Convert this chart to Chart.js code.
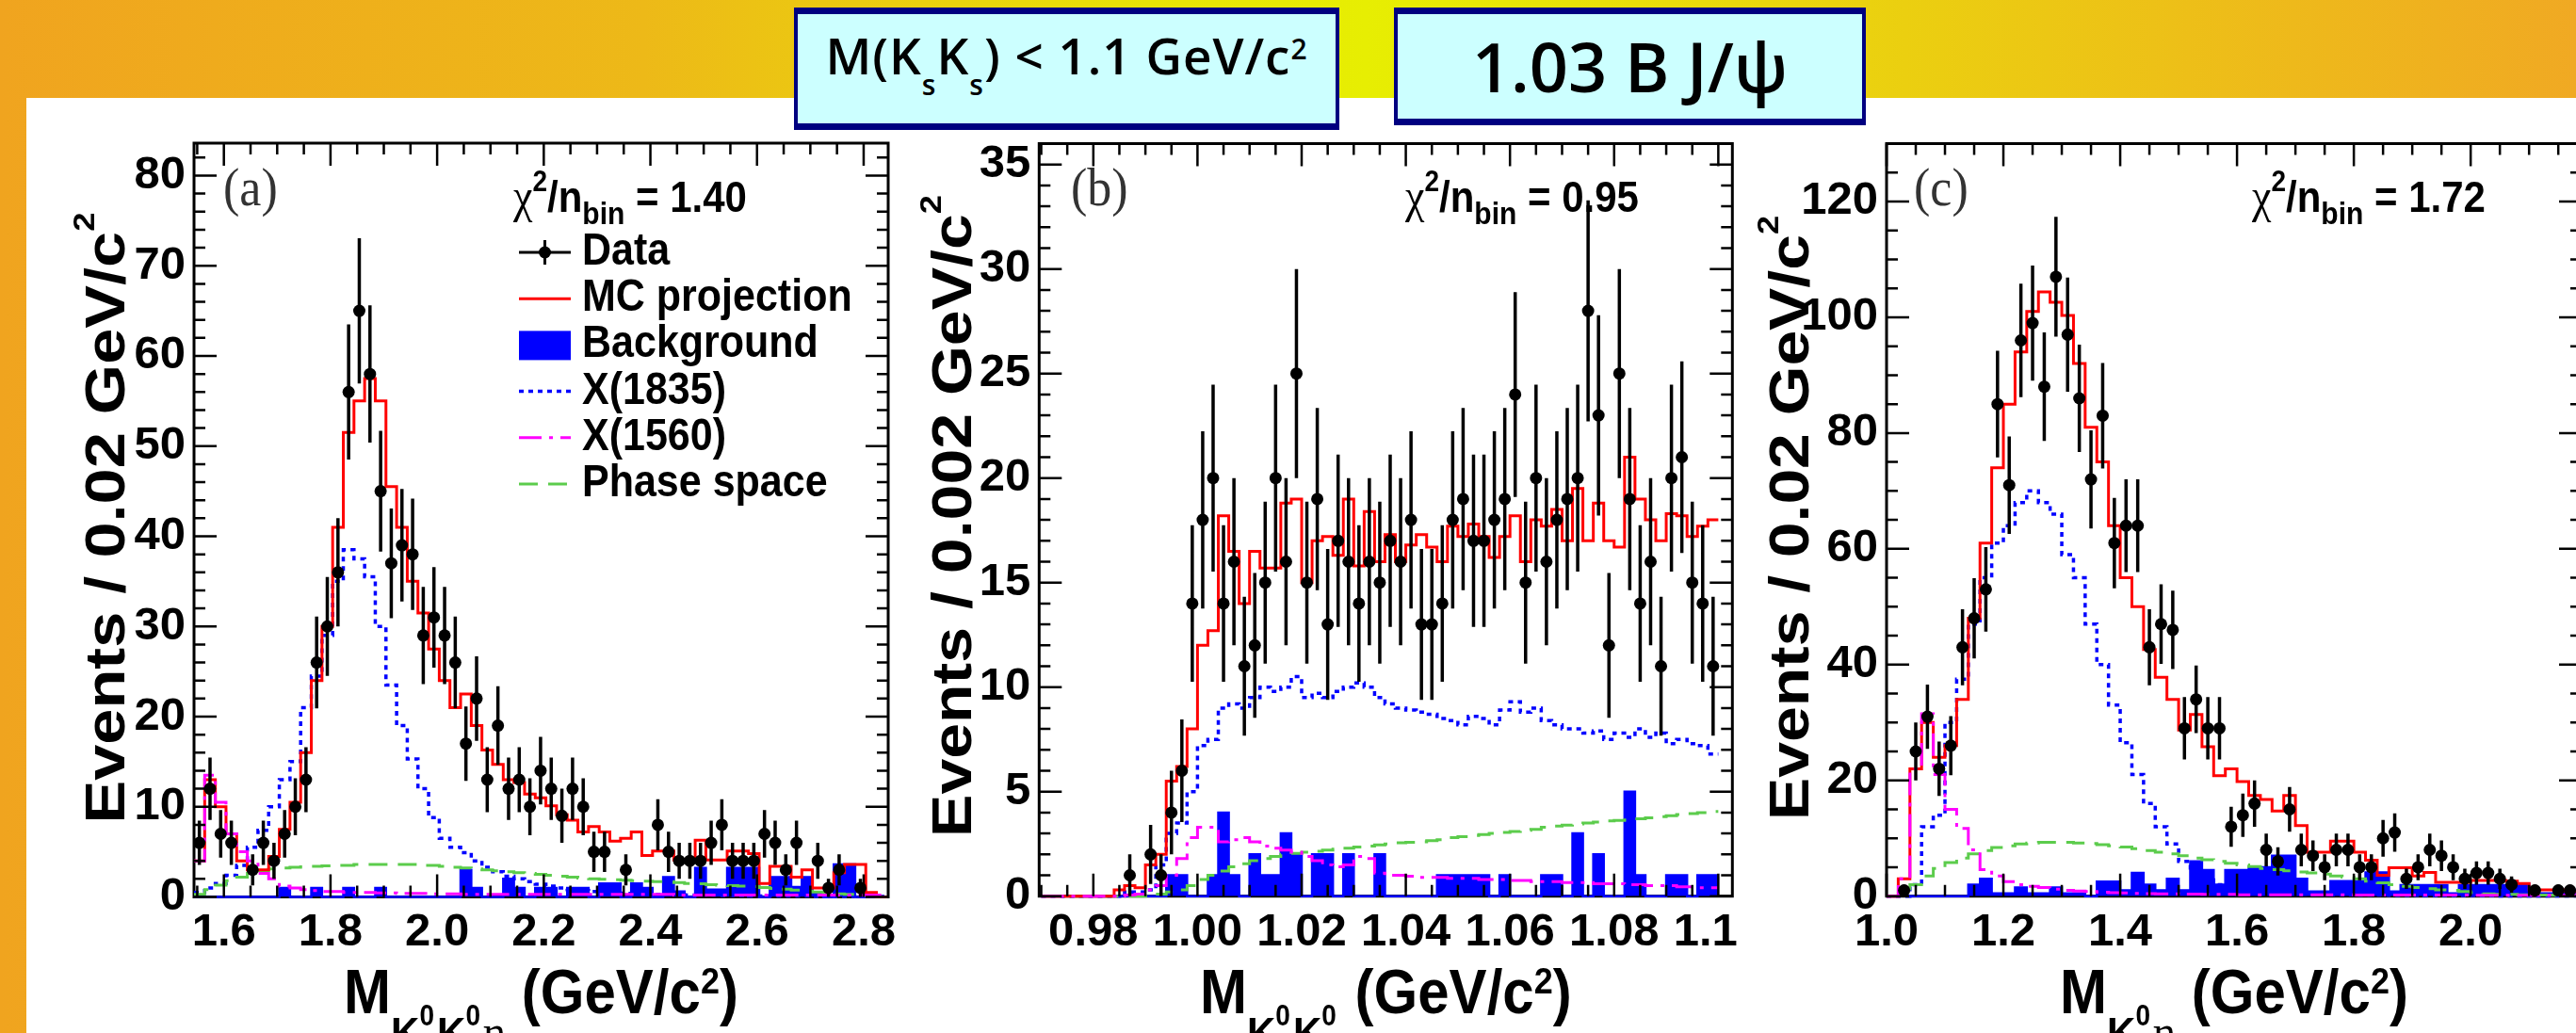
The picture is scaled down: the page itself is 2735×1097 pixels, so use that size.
<!DOCTYPE html>
<html lang="en">
<head>
<meta charset="UTF-8">
<title>K0K0eta projections, 1.03 B J/psi</title>
<script src="https://cdn.jsdelivr.net/npm/chart.js"></script>
<style>
    html, body { margin: 0; padding: 0; }
    body {
        width: 2735px; height: 1097px; overflow: hidden; position: relative;
        background: linear-gradient(90deg, #f0a41f 0%, #edb918 25%, #e8e405 45%, #e7ee02 53%, #ebcf10 74%, #f0a923 100%);
        font-family: "Open Sans", sans-serif;
    }
    /* white slide area */
    .sheet { position: absolute; left: 28px; top: 104px; right: 0; bottom: 0; background: #fff; }
    .tag {
        position: absolute; top: 8px; box-sizing: border-box; z-index: 3;
        background: #ccffff; border: 4px solid #000080; border-top-width: 7px; border-bottom-width: 7px;
    }
    .tag span { position: absolute; left: 0; right: 0; text-align: center; white-space: nowrap; color: #000; font-weight: 600; }
    .t1 { top: 17px; font-size: 53px; line-height: 53px; letter-spacing: 1px; }
    .t1 sub, .t1 sup { font-size: 30px; line-height: 0; }
    .t1 sub { vertical-align: -22px; }
    .t1 sup { vertical-align: 16px; }
    .t2 { top: 19px; font-size: 72px; line-height: 72px; }
    canvas { position: absolute; left: 0; top: 0; }
</style>
</head>
<body>
<div class="sheet"></div>
<div class="tag" style="left:843px;width:579px;height:130px;"><span class="t1">M(K<sub>s</sub>K<sub>s</sub>) &lt; 1.1 GeV/c<sup>2</sup></span></div>
<div class="tag" style="left:1480px;width:501px;height:125px;"><span class="t2">1.03 B J/ψ</span></div>
<canvas id="pa" width="2735" height="1097"></canvas>
<canvas id="pb" width="2735" height="1097"></canvas>
<canvas id="pc" width="2800" height="1097"></canvas>

<script>
// legend / series names (same order in every panel)
const seriesNames = ['Data', 'MC projection', 'Background', 'X(1835)', 'X(1560)', 'Phase space'];

// ---- (a) M(K0S K0S eta), 0.02 GeV bins from threshold
const aBinStart = 1.544, aBinWidth = 0.02;
const aData  = [6,12,7,6,null,3,6,4,7,10, 13,26,30,36,56,65,58,45,37,39, 38,29,31,29,26,17,22,13,19,12,
                13,10,14,12,9,12,10,5,5,null, 3,null,null,8,5,4,4,4,6,8, 4,4,4,7,6,3,6,null,4,1, 3,null,1,null,null];
const aMC    = [4,13,10,7,4,3,3,4.5,7.5,10.5, 16,24,30,41,51.5,55,57.5,55,45.5,41, 35,31.5,27.5,24,21,22.5,19,16.3,14.7,13,
                12.7,11.4,11,10.1,9.1,8.5,7.2,7.8,7.2,6.2, 6.5,7.2,4.6,5.1,5.1,4.1,4.1,6.3,4.1,4.1, 5.1,5.1,4.8,1.5,3.4,3.4,2.2,3.0,1.0,1.0,
                2.7,3.6,3.6,0.5,0];
const aBkg   = [0,0,0,0,0,0,0,0,1,0, 0,1,0,0,1,0,0,1,0,0, 0,0,0,0,0,3,1,0,0,2,
                1,0,1,1,0,1,1,0,1.5,1.5, 0,1.5,1,0,2.2,0.6,0,3.2,0.8,0.8, 3.2,3.2,3.2,0,2.2,2.2,1.1,2.2,0.5,0, 3.6,3.6,0,0,0];
const aX1835 = [0.5,1,1.5,2.4,3.5,5.5,7.4,10,13,15, 21,24.5,29,35,38.5,37.5,35.5,30,23.5,19, 15.3,12,8.8,6.5,5.5,4.9,4,3.3,2.8,2.3,
                2,1.7,1.4,1.2,1,0.8,0.7,0.6,0.5,0.45, 0.4,0.35,0.3,0.3,0.25,0.25,0.2,0.2,0.2,0.15, 0.15,0.15,0.1,0.1,0.1,0.1,0.1,0.1,0.05,0.05,
                0.05,0.05,0.05,0.05,0.05];
const aX1560 = [4,13.5,10.5,7,5,4,2.6,2,1.2,1, 0.8,0.7,0.6,0.6,0.5,0.5,0.5,0.45,0.45,0.4, 0.4,0.4,0.35,0.35,0.35,0.3,0.3,0.3,0.3,0.3,
                0.3,0.3,0.3,0.3,0.3,0.3,0.3,0.3,0.3,0.3, 0.3,0.3,0.3,0.3,0.3,0.2,0.2,0.2,0.2,0.2, 0.2,0.2,0.2,0.2,0.2,0.2,0.2,0.2,0.2,0.2,
                0.2,0.2,0.2,0.2,0.2];
const aPS    = [0.3,0.8,1.3,1.8,2.2,2.6,2.9,3.1,3.2,3.3, 3.35,3.4,3.45,3.5,3.5,3.6,3.6,3.6,3.6,3.6, 3.6,3.5,3.5,3.4,3.3,3.2,3.1,3.0,2.9,2.8,
                2.7,2.6,2.5,2.4,2.3,2.2,2.1,2.0,1.95,1.9, 1.85,1.8,1.75,1.7,1.7,1.6,1.5,1.45,1.35,1.3, 1.25,1.2,1.15,1.05,0.95,0.85,0.75,0.65,0.55,0.45,
                0.35,0.3,0.25,0.15,0.1];
const aXTicks = [1.6, 1.8, 2.0, 2.2, 2.4, 2.6, 2.8];
const aXLabels = ['1.6', '1.8', '2.0', '2.2', '2.4', '2.6', '2.8'];
const aYTicks = [0, 10, 20, 30, 40, 50, 60, 70, 80];
const aYLabels = ['0', '10', '20', '30', '40', '50', '60', '70', '80'];

// ---- (b) M(K0S K0S), 0.002 GeV bins from 0.97 to 1.10
const bBinStart = 0.97, bBinWidth = 0.002;
const bData  = [null,null,null,null,null,null,null,null,1,null, 2,1,4,6,14,18,20,14,16,11, 12,15,20,16,25,15,19,13,17,16,
                14,16,15,17,16,18,13,13,14,18, 19,17,17,18,19,24,15,20,16,18, 19,20,28,23,12,25,19,14,16,11, 20,21,15,14,11];
const bMC    = [0,0,0,0,0,0,0,0.3,0.5,0.4, 1.5,2,5.5,6.2,8,12,12.7,18.2,16.5,14, 16.5,15.7,15.7,18.8,19,15,17,17.2,16.3,19,
                15.8,18.4,16,17.3,16,16.8,17.3,16.7,16,17.7, 17.2,17.8,17.2,16.2,17.2,18.2,16,18,17.7,18.5, 17,19.5,17,18.8,17,16.7,21,19,18,17,
                18.3,18.2,17.2,17.7,18];
const bBkg   = [0,0,0,0,0,0,0,0,0,0, 0,0,1,1,0,0,1,4,1,0, 2,1,1,3,2,0,2,2,0,2,
                0,0,2,0,0,0,0,0,1,1, 1,1,1,0,1,0,0,0,1,1, 0,3,0,2,0,0,5,1,0,0, 1,1,0,1,1];
const bX1835 = [0,0,0,0,0,0,0,0,0.2,0.2, 0.3,1.5,3,3.5,5,7.2,7.5,9,9.2,9, 9.5,10,9.8,10,10.5,9.5,9.7,9.5,9.8,10,
                10.2,10,9.5,9.2,9,8.9,8.8,8.7,8.5,8.4, 8.2,8.6,8.5,8.2,8.9,9.3,8.8,9,8.4,8.2, 8,8,7.8,7.9,7.5,7.8,7.6,8,7.6,7.8,
                7.3,7.5,7.3,7.2,6.8];
const bX1560 = [0,0,0,0,0,0,0,0,0.05,0.1, 0.3,0.5,1.0,1.8,2.8,3.3,3.3,2.6,2.7,2.8, 2.6,2.4,2.3,2.2,2.1,1.9,1.7,1.5,1.4,1.5,
                1.9,1.8,1.1,1.0,1.0,0.95,0.9,0.9,0.9,0.85, 0.85,0.85,0.8,0.8,0.8,0.75,0.75,0.7,0.7,0.7, 0.65,0.65,0.65,0.6,0.6,0.6,0.55,0.55,0.5,0.5,
                0.5,0.45,0.45,0.4,0.4];
const bPS    = [0,0,0,0,0,0,0,0,0,0, 0.02,0.1,0.2,0.3,0.5,0.8,1.0,1.2,1.4,1.55, 1.7,1.8,1.9,2.0,2.05,2.1,2.15,2.2,2.25,2.3,
                2.35,2.4,2.45,2.5,2.55,2.58,2.6,2.65,2.7,2.8, 2.85,2.9,2.95,3.0,3.05,3.1,3.15,3.2,3.3,3.35, 3.4,3.45,3.5,3.55,3.6,3.62,3.65,3.7,3.75,3.8,
                3.85,3.9,3.95,4.0,4.05];
const bXTicks = [0.98, 1.00, 1.02, 1.04, 1.06, 1.08, 1.10];
const bXLabels = ['0.98', '1.00', '1.02', '1.04', '1.06', '1.08', '1.1'];
const bYTicks = [0, 5, 10, 15, 20, 25, 30, 35];
const bYLabels = ['0', '5', '10', '15', '20', '25', '30', '35'];

// ---- (c) M(K0S eta), 0.02 GeV bins
const cBinStart = 1.0, cBinWidth = 0.02;
const cData  = [null,1,25,31,22,26,43,48,53,85, 71,96,99,88,107,97,86,72,83,61, 64,64,43,47,46,29,34,29,29,12,
                14,16,8,6,15,8,7,5,8,8, 5,5,10,11,3,5,8,7,5,3, 4,4,3,2,null,1,null,1,1,null];
const cMC    = [0,3,22,30,24,26,34,48,61,74, 85,94,101,104.4,102.6,100.3,92,81,75,64, 55,50,42.6,37.8,34,28.7,31.4,25.8,20.8,22,
                19.8,17.4,16.7,14.7,17.4,12.2,7.6,7.6,9.5,9.5, 7.6,6.2,3.6,4.9,4.9,3.5,4.1,2.4,2.4,2.4, 2.7,2.7,2.7,2.6,2.2,1.1,1.1,1.1,0.9,0.8];
const cBkg   = [0,0,0,0,0,0,0,2,3,0.5, 0.5,1.5,0.5,0.5,1.5,0.5,0.5,0,2.5,2.5, 1,4,2,1,3,1,6,4.5,2,4.5,
                4.5,5,5,7,7,3,0.8,0.8,2.6,2.6, 2.6,4.1,4.1,0.8,1.9,1.9,1.9,1.9,0.5,1.9, 1.9,1.9,1.9,1.9,2.2,0.5,0.5,0.3,1.1,1.1];
const cX1835 = [0,0,2,12,14,30,37.5,47,55,61, 64,68,70,68,66,59,55,47,40,33, 26.5,21,16,12,9,6,4,2.8,2,1.4,
                1,0.8,0.6,0.5,0.4,0.35,0.3,0.3,0.25,0.25, 0.2,0.2,0.2,0.15,0.15,0.15,0.1,0.1,0.1,0.1, 0.1,0.1,0.05,0.05,0.05,0.05,0.05,0.05,0.05,0.05];
const cX1560 = [0,3,22,31.5,21,15,11.7,8,4.6,3.5, 2.5,2,1.7,1.5,1.2,1,0.9,0.8,0.7,0.6, 0.55,0.5,0.45,0.4,0.4,0.35,0.35,0.3,0.3,0.3,
                0.25,0.25,0.25,0.25,0.25,0.25,0.25,0.25,0.25,0.25, 0.2,0.2,0.2,0.2,0.2,0.2,0.2,0.2,0.2,0.2, 0.15,0.15,0.15,0.15,0.15,0.15,0.15,0.15,0.15,0.15];
const cPS    = [0,0.5,2,3.5,4.8,5.8,6.6,7.3,7.9,8.4, 8.7,9.0,9.2,9.3,9.3,9.3,9.2,9.1,8.9,8.7, 8.5,8.2,7.9,7.6,7.3,7.0,6.6,6.3,6.0,5.7,
                5.4,5.1,4.8,4.6,4.4,4.2,4.0,3.8,3.5,3.3, 3.0,2.6,2.3,2.0,1.7,1.5,1.3,1.1,1.0,0.8, 0.6,0.4,0.3,0.3,0.25,0.2,0.2,0.15,0.1,0.1];
const cXTicks = [1.0, 1.2, 1.4, 1.6, 1.8, 2.0];
const cXLabels = ['1.0', '1.2', '1.4', '1.6', '1.8', '2.0'];
const cYTicks = [0, 20, 40, 60, 80, 100, 120];
const cYLabels = ['0', '20', '40', '60', '80', '100', '120'];

// ---------------------------------------------------------------
const B = s => `bold ${s}px "Liberation Sans", Arial, sans-serif`;
const SERIF = s => `${s}px "Liberation Serif", "Times New Roman", serif`;
Chart.defaults.font.family = '"Liberation Sans", Arial, sans-serif';

function measureRich(ctx, parts) {
    let w = 0;
    for (const p of parts) { ctx.font = p.f; if (!p.stack) w += ctx.measureText(p.t).width; }
    return w;
}

// draws a run of text pieces (sub/superscripts via dy), optionally rotated / stretched
function drawRich(ctx, parts, x, y, o = {}) {
    ctx.save();
    ctx.translate(x, y);
    if (o.rot) ctx.rotate(o.rot);
    const total = measureRich(ctx, parts);
    ctx.scale(o.len ? o.len / total : (o.sx || 1), o.sy || 1);
    let cx = o.align === 'center' ? -total / 2 : 0;
    ctx.textBaseline = o.baseline || 'alphabetic';
    ctx.fillStyle = o.color || '#000';
    for (const p of parts) {
        ctx.font = p.f;
        ctx.fillText(p.t, cx, p.dy || 0);
        if (!p.stack) cx += ctx.measureText(p.t).width;
    }
    ctx.restore();
}

function xTitleParts(sub) {
    const parts = [{ t: 'M', f: B(60) }];
    for (const s of sub) {
        if (s === 'K') parts.push({ t: 'K', f: B(42), dy: 34 }, { t: '0', f: B(28), dy: 12, stack: true }, { t: 'S', f: B(28), dy: 52 });
        else parts.push({ t: 'η', f: SERIF(46), dy: 34 });
    }
    parts.push({ t: ' (GeV/c', f: B(60) }, { t: '2', f: B(36), dy: -19 }, { t: ')', f: B(60) });
    return parts;
}

// frame, ROOT style inner ticks, error bars and all the in-pad texts
const hepPlugin = {
    id: 'hep',
    beforeDatasetsDraw(chart) {
        const { ctx, chartArea: a } = chart;
        ctx.save();
        ctx.lineWidth = 3;
        ctx.strokeStyle = '#000';
        ctx.strokeRect(a.left, a.top, a.right - a.left, a.bottom - a.top);
        ctx.restore();
    },
    afterDatasetsDraw(chart, args, o) {
        const { ctx, chartArea: a, scales: { x, y } } = chart;

        // error bars (Poisson)
        ctx.save();
        ctx.strokeStyle = '#000';
        ctx.lineWidth = 3.5;
        ctx.beginPath();
        for (const p of chart.data.datasets[0].data) {
            const e = Math.sqrt(p.y);
            const px = x.getPixelForValue(p.x);
            ctx.moveTo(px, Math.min(y.getPixelForValue(p.y - e), a.bottom));
            ctx.lineTo(px, Math.max(y.getPixelForValue(p.y + e), a.top));
        }
        ctx.stroke();

        // ticks on all four sides
        ctx.lineWidth = 2.5;
        ctx.beginPath();
        const isMajor = (v, arr, step) => arr.some(t => Math.abs(t - v) < step / 10);
        for (let k = Math.ceil(x.min / o.minorX - 1e-6); k * o.minorX <= x.max + 1e-9; k++) {
            const v = k * o.minorX, px = x.getPixelForValue(v);
            const len = isMajor(v, o.xTicks, o.minorX) ? 24 : 12;
            ctx.moveTo(px, a.bottom); ctx.lineTo(px, a.bottom - len);
            ctx.moveTo(px, a.top); ctx.lineTo(px, a.top + len);
        }
        for (let k = Math.ceil(y.min / o.minorY - 1e-6); k * o.minorY <= y.max + 1e-9; k++) {
            const v = k * o.minorY, py = y.getPixelForValue(v);
            const len = isMajor(v, o.yTicks, o.minorY) ? 24 : 12;
            ctx.moveTo(a.left, py); ctx.lineTo(a.left + len, py);
            ctx.moveTo(a.right, py); ctx.lineTo(a.right - len, py);
        }
        ctx.stroke();
        ctx.restore();

        // pad letter
        drawRich(ctx, [{ t: o.tag, f: SERIF(52) }], o.tagX, 218, { sy: 1.1, color: '#333' });
        // chi2 / nbin
        drawRich(ctx, [
            { t: 'χ', f: SERIF(46) }, { t: '2', f: B(28), dy: -20 }, { t: '/n', f: B(42) },
            { t: 'bin', f: B(30), dy: 12 }, { t: ' = ' + o.chi, f: B(42) }
        ], o.chiX, 225, { sy: 1.1 });
        // axis titles
        drawRich(ctx, [{ t: o.yTitle, f: B(60) }, { t: '2', f: B(32), dy: -32 }],
            o.yTitleX, o.yTitleY, { rot: -Math.PI / 2, len: o.yTitleLen, align: 'center' });
        drawRich(ctx, xTitleParts(o.xSub), (a.left + a.right) / 2, 1076, { align: 'center', sy: 1.1 });

        // legend (pad a only)
        if (o.legend) {
            chart.data.datasets.forEach((ds, i) => {
                const cy = 268 + i * 49.2;
                ctx.save();
                if (i === 0) {
                    ctx.strokeStyle = '#000'; ctx.lineWidth = 3;
                    ctx.beginPath();
                    ctx.moveTo(551, cy); ctx.lineTo(606, cy);
                    ctx.moveTo(578.5, cy - 13); ctx.lineTo(578.5, cy + 13);
                    ctx.stroke();
                    ctx.beginPath(); ctx.arc(578.5, cy, 6.5, 0, Math.PI * 2); ctx.fillStyle = '#000'; ctx.fill();
                } else if (ds.fill) {
                    ctx.fillStyle = ds.backgroundColor;
                    ctx.fillRect(551, cy - 15, 55, 31);
                } else {
                    ctx.strokeStyle = ds.borderColor; ctx.lineWidth = ds.borderWidth;
                    ctx.setLineDash(ds.borderDash || []);
                    ctx.beginPath(); ctx.moveTo(551, cy); ctx.lineTo(606, cy); ctx.stroke();
                }
                ctx.restore();
                drawRich(ctx, [{ t: ds.label, f: B(43) }], 618, cy, { sy: 1.1, baseline: 'middle' });
            });
        }
    }
};

function makePanel(p) {
    const bs = p.binStart, bw = p.binWidth;
    const hist = vals => {
        const pts = vals.map((v, i) => ({ x: bs + bw * i, y: v }));
        pts.push({ x: bs + bw * vals.length, y: vals[vals.length - 1] });
        return pts;
    };
    const line = (label, vals, color, dash, width, order) => ({
        label, data: hist(vals), stepped: true, borderColor: color, borderWidth: width,
        borderDash: dash, pointRadius: 0, fill: false, clip: 6, order
    });
    // lower "order" is painted later (on top)
    const datasets = [
        { label: seriesNames[0], data: p.data.map((v, i) => ({ x: bs + bw * (i + 0.5), y: v })).filter(q => q.y !== null),
          showLine: false, pointRadius: 6.5, pointBackgroundColor: '#000', pointBorderWidth: 0, order: 0, clip: 10 },
        line(seriesNames[1], p.mc, '#ff0000', [], 3, 2),
        Object.assign(line(seriesNames[2], p.bkg, '#0000ff', [], 2.5, 6), { fill: 'origin', backgroundColor: '#0000ff' }),
        line(seriesNames[3], p.x1835, '#0000ff', [5, 5], 3.5, 4),
        line(seriesNames[4], p.x1560, '#ff00ff', [24, 8, 4, 8], 3, 1),
        line(seriesNames[5], p.ps, '#5ccc4c', [20, 11], 3, 3)
    ];
    const canvas = document.getElementById(p.id);
    const f = p.frame;
    const tickFont = { family: '"Liberation Sans", Arial, sans-serif', weight: 'bold', size: 49, lineHeight: 1.2 };
    return new Chart(canvas, {
        type: 'line',
        data: { datasets },
        options: {
            responsive: false, animation: false, devicePixelRatio: 1, events: [],
            layout: { padding: { left: f.l - 100, right: canvas.width - f.r, top: f.t, bottom: canvas.height - f.b - 100 } },
            scales: {
                x: {
                    type: 'linear', min: p.xMin, max: p.xMax, bounds: 'data',
                    afterBuildTicks: s => { s.ticks = p.xTicks.map(v => ({ value: v })); },
                    afterFit: s => { s.height = 100; },
                    grid: { display: false, drawTicks: false }, border: { display: false },
                    ticks: { autoSkip: false, maxRotation: 0, minRotation: 0, padding: 9, color: '#000', font: tickFont,
                             callback: (v, i) => p.xLabels[i] + (p.padLast && i === p.xLabels.length - 1 ? '  ' : '') }
                },
                y: {
                    type: 'linear', min: 0, max: p.yMax, bounds: 'data',
                    afterBuildTicks: s => { s.ticks = p.yTicks.map(v => ({ value: v })); },
                    afterFit: s => { s.width = 100; },
                    grid: { display: false, drawTicks: false }, border: { display: false },
                    ticks: { autoSkip: false, padding: 9, color: '#000', font: tickFont, callback: (v, i) => p.yLabels[i] }
                }
            },
            plugins: {
                legend: { display: false }, tooltip: { enabled: false },
                hep: {
                    minorX: p.minorX, minorY: p.minorY, xTicks: p.xTicks, yTicks: p.yTicks,
                    tag: p.tag, tagX: p.tagX, chi: p.chi, chiX: p.chiX,
                    yTitle: p.yTitle, yTitleX: p.yTitleX, yTitleY: p.yTitleY, yTitleLen: p.yTitleLen,
                    xSub: p.xSub, legend: !!p.legend
                }
            }
        },
        plugins: [hepPlugin]
    });
}

makePanel({
    id: 'pa', frame: { l: 206, r: 943, t: 152, b: 952.5 },
    binStart: aBinStart, binWidth: aBinWidth,
    data: aData, mc: aMC, bkg: aBkg, x1835: aX1835, x1560: aX1560, ps: aPS,
    xMin: 1.544, xMax: 2.846, yMax: 83.6, minorX: 0.05, minorY: 2,
    xTicks: aXTicks, xLabels: aXLabels, yTicks: aYTicks, yLabels: aYLabels,
    tag: '(a)', tagX: 237, chi: '1.40', chiX: 545,
    yTitle: 'Events / 0.02 GeV/c', yTitleX: 132, yTitleY: 550, yTitleLen: 649,
    xSub: ['K', 'K', 'eta'], legend: true
});
makePanel({
    id: 'pb', frame: { l: 1103.3, r: 1839.3, t: 152.5, b: 951.7 },
    binStart: bBinStart, binWidth: bBinWidth,
    data: bData, mc: bMC, bkg: bBkg, x1835: bX1835, x1560: bX1560, ps: bPS,
    xMin: 0.9696, xMax: 1.1027, yMax: 36, minorX: 0.005, minorY: 1,
    xTicks: bXTicks, xLabels: bXLabels, yTicks: bYTicks, yLabels: bYLabels, padLast: true,
    tag: '(b)', tagX: 1137, chi: '0.95', chiX: 1492,
    yTitle: 'Events / 0.002 GeV/c', yTitleX: 1031, yTitleY: 548, yTitleLen: 682,
    xSub: ['K', 'K']
});
makePanel({
    id: 'pc', frame: { l: 2003, r: 2741, t: 152.5, b: 951.7 },
    binStart: cBinStart, binWidth: cBinWidth,
    data: cData, mc: cMC, bkg: cBkg, x1835: cX1835, x1560: cX1560, ps: cPS,
    xMin: 1.0, xMax: 2.19, yMax: 130, minorX: 0.05, minorY: 5,
    xTicks: cXTicks, xLabels: cXLabels, yTicks: cYTicks, yLabels: cYLabels,
    tag: '(c)', tagX: 2032, chi: '1.72', chiX: 2391,
    yTitle: 'Events / 0.02 GeV/c', yTitleX: 1920, yTitleY: 550, yTitleLen: 642,
    xSub: ['K', 'eta']
});
</script>
</body>
</html>
